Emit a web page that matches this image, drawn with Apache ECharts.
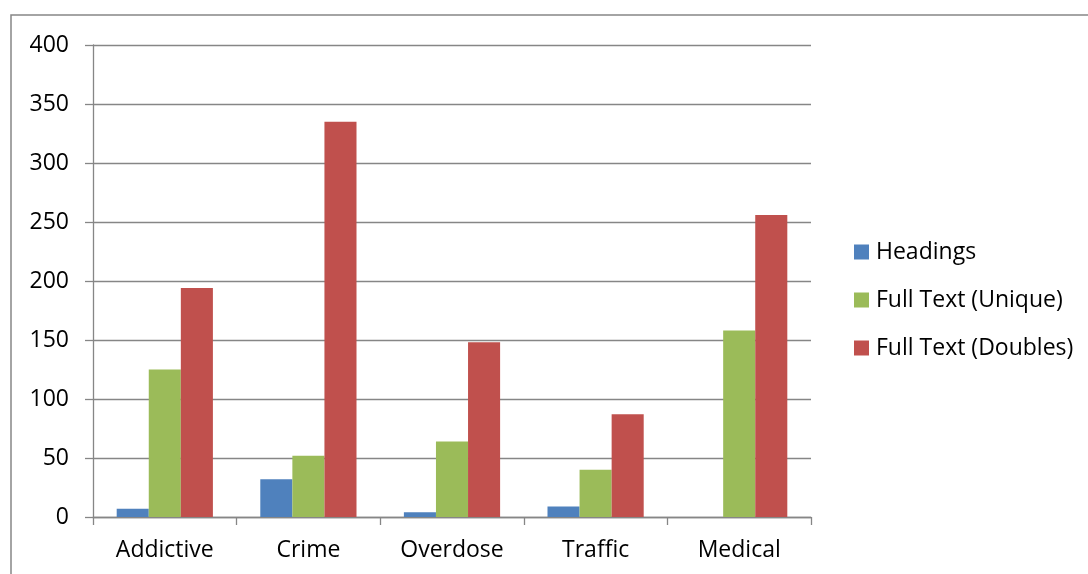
<!DOCTYPE html>
<html>
<head>
<meta charset="utf-8">
<script src="https://cdn.jsdelivr.net/npm/echarts@6/dist/echarts.min.js"></script>
<style>html,body{margin:0;padding:0;background:#fff;}#c{width:1088px;height:574px;}</style>
</head>
<body>
<div id="c"></div>
<script>
var categories = ['Addictive', 'Crime', 'Overdose', 'Traffic', 'Medical'];
var headings = [7, 32, 4, 9, 0];
var fullUnique = [125, 52, 64, 40, 158];
var fullDoubles = [194, 335, 148, 87, 256];
var yTicks = [0, 50, 100, 150, 200, 250, 300, 350, 400];

var chart = echarts.init(document.getElementById('c'));
var font = '"Open Sans", "Noto Sans", sans-serif';
chart.setOption({
  animation: false,
  backgroundColor: '#fff',
  graphic: [{
    type: 'rect', shape: {x: 11, y: 15, width: 1200, height: 700},
    style: {fill: 'none', stroke: '#868686', lineWidth: 1.5}, silent: true
  }],
  grid: {left: 93, right: 277, top: 45, bottom: 57, containLabel: false},
  legend: {
    orient: 'vertical', left: 854, top: 239, padding: 0,
    itemWidth: 15, itemHeight: 15, itemGap: 22, icon: 'rect',
    textStyle: {fontFamily: font, fontSize: 23, color: '#000', lineHeight: 26, padding: [0, 0, 0, 2]},
    data: ['Headings', 'Full Text (Unique)', 'Full Text (Doubles)']
  },
  xAxis: {
    type: 'category', data: categories,
    axisLine: {lineStyle: {color: '#868686', width: 1.3}},
    axisTick: {show: true, length: 8, lineStyle: {color: '#868686', width: 1.3}},
    axisLabel: {fontFamily: font, fontSize: 23, color: '#000', margin: 22}
  },
  yAxis: {
    type: 'value', min: 0, max: 400, interval: 50,
    axisLine: {show: true, lineStyle: {color: '#868686', width: 1.3}},
    axisTick: {show: true, length: 8, lineStyle: {color: '#868686', width: 1.3}},
    splitLine: {lineStyle: {color: '#868686', width: 1.3}},
    axisLabel: {fontFamily: font, fontSize: 23, color: '#000', margin: 24,
      formatter: function (v) { return yTicks.indexOf(v) >= 0 ? String(v) : ''; }}
  },
  series: [
    {name: 'Headings', type: 'bar', data: headings, barGap: '0%', barCategoryGap: '33%',
     itemStyle: {color: '#4F81BD'}},
    {name: 'Full Text (Unique)', type: 'bar', data: fullUnique, barGap: '0%', barCategoryGap: '33%',
     itemStyle: {color: '#9BBB59'}},
    {name: 'Full Text (Doubles)', type: 'bar', data: fullDoubles, barGap: '0%', barCategoryGap: '33%',
     itemStyle: {color: '#C0504D'}}
  ]
});
</script>
</body>
</html>
